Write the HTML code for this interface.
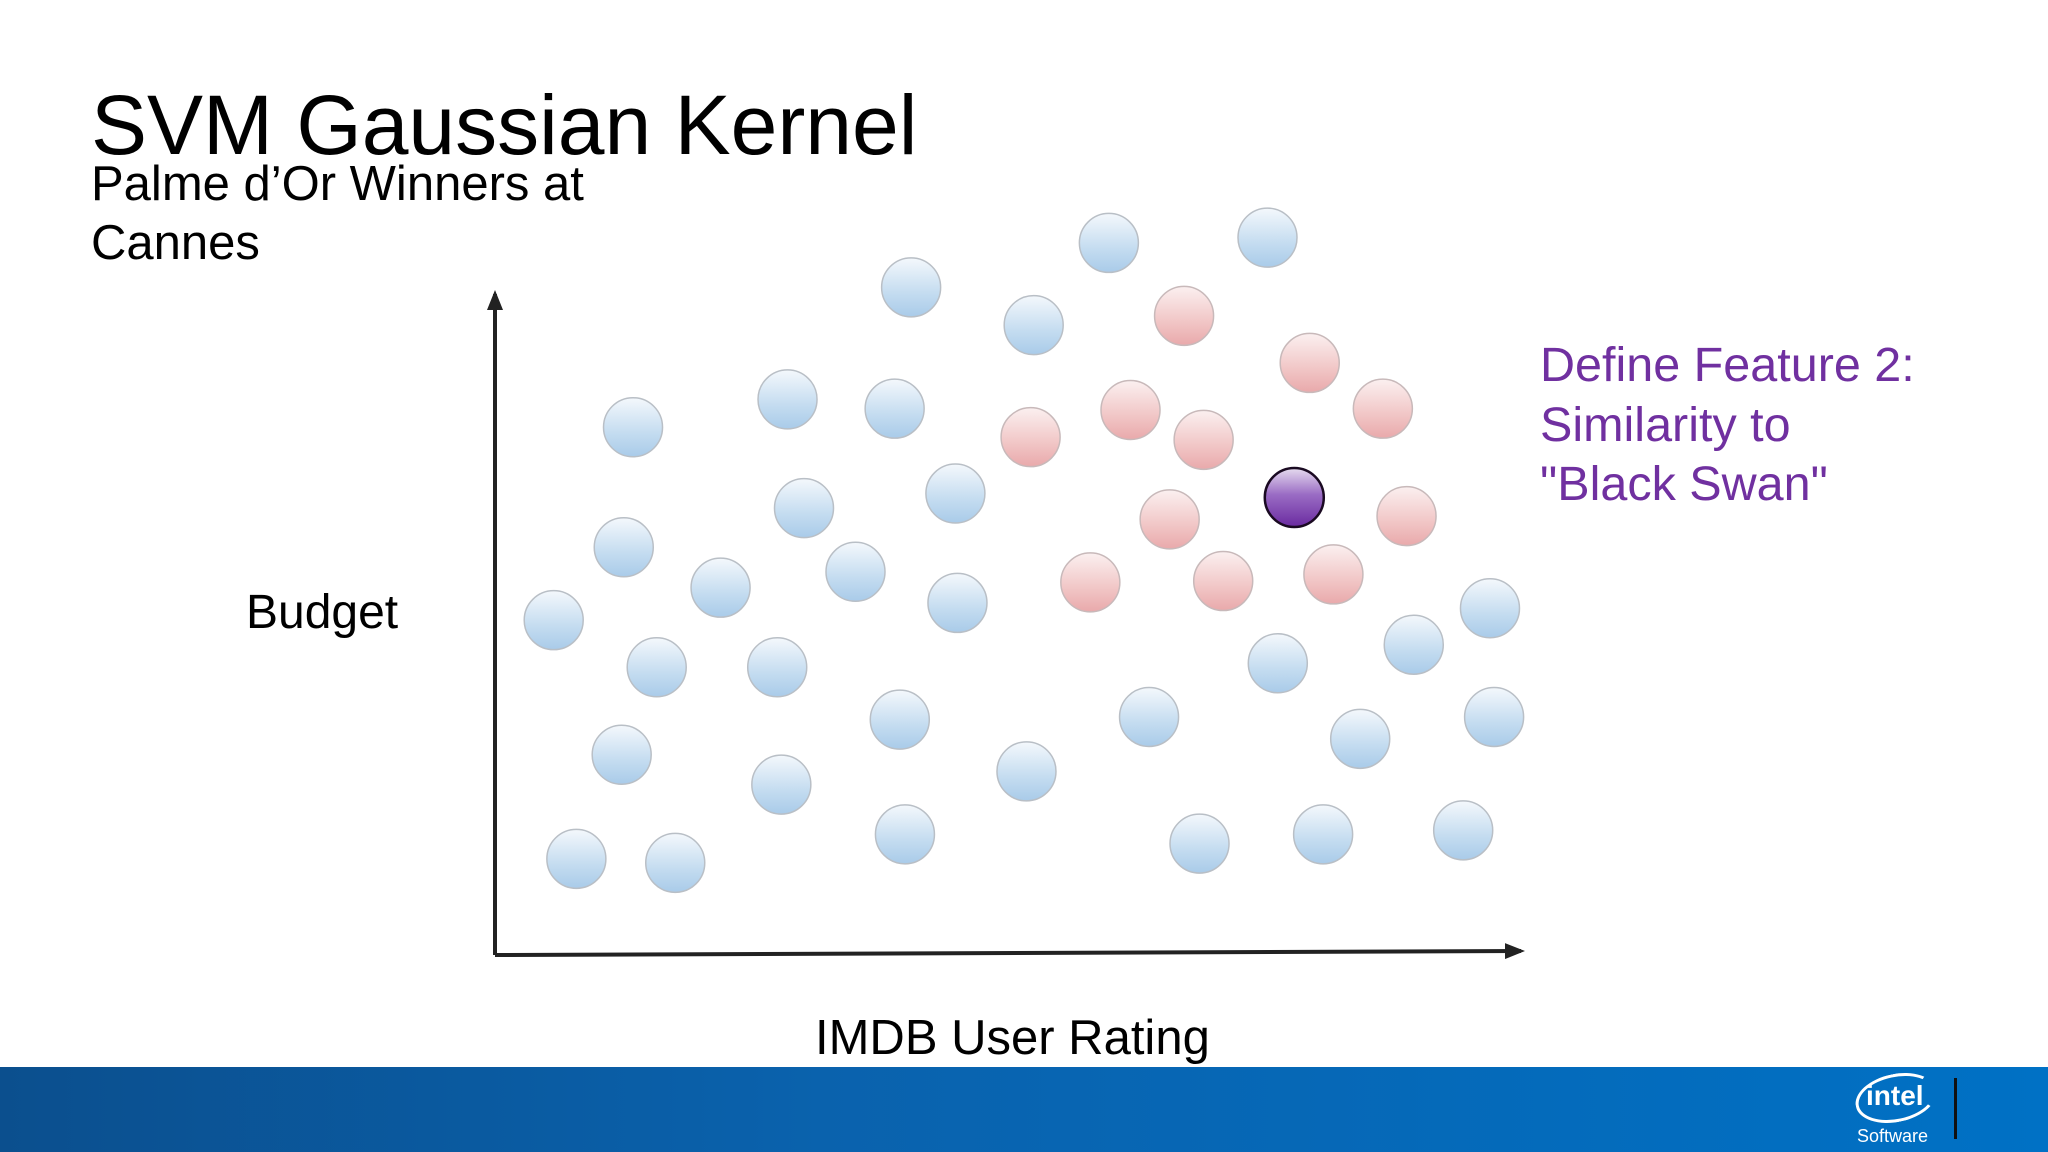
<!DOCTYPE html>
<html><head><meta charset="utf-8"><style>
html,body{margin:0;padding:0;background:#fff;}
#page{position:relative;width:2048px;height:1152px;overflow:hidden;font-family:"Liberation Sans",sans-serif;background:#fff;}
.t{position:absolute;white-space:nowrap;color:#000;}
</style></head><body>
<div id="page">
<div class="t" style="left:91px;top:77px;font-size:84px;">SVM Gaussian Kernel</div>
<div class="t" style="left:91px;top:155px;font-size:49px;line-height:59px;">Palme d’Or Winners at<br>Cannes</div>
<div class="t" style="left:246px;top:585px;font-size:48px;">Budget</div>
<div class="t" style="left:815px;top:1010px;font-size:49px;">IMDB User Rating</div>
<div class="t" style="left:1540px;top:336px;font-size:48.5px;line-height:59.5px;color:#7030a0;">Define Feature 2:<br>Similarity to<br>"Black Swan"</div>
<svg id="chart" width="2048" height="1152" style="position:absolute;left:0;top:0;">
<defs>
<linearGradient id="gb" x1="0" y1="0" x2="0" y2="1"><stop offset="0" stop-color="#f4f8fc"/><stop offset="0.6" stop-color="#c4dcf0"/><stop offset="1" stop-color="#a9cbe9"/></linearGradient>
<linearGradient id="gr" x1="0" y1="0" x2="0" y2="1"><stop offset="0" stop-color="#fbf0f0"/><stop offset="0.6" stop-color="#f1c6c6"/><stop offset="1" stop-color="#e9a9ab"/></linearGradient>
<linearGradient id="gp" x1="0" y1="0" x2="0" y2="1"><stop offset="0" stop-color="#e6dcef"/><stop offset="0.45" stop-color="#9a6cc4"/><stop offset="1" stop-color="#6a2aa0"/></linearGradient>
<marker id="ah" markerWidth="5" markerHeight="4" refX="4" refY="2" orient="auto" markerUnits="strokeWidth"><path d="M0,0 L5,2 L0,4 z" fill="#222"/></marker>
</defs>
<g id="axes"></g><g id="marks"></g>
</svg>
<div style="position:absolute;left:0;top:1067px;width:2048px;height:85px;background:linear-gradient(90deg,#0b4f8e 0%,#0a62ad 40%,#0071c5 100%);"></div>
<div style="position:absolute;left:1855px;top:1074px;width:76px;height:42px;border:3px solid #fff;border-radius:50%;transform:rotate(-12deg);border-right-color:transparent;"></div>
<div class="t" style="left:1866px;top:1080px;font-size:28px;color:#fff;font-weight:bold;">intel</div>
<div class="t" style="left:1857px;top:1126px;font-size:18px;color:#fff;">Software</div>
<div style="position:absolute;left:1954px;top:1078px;width:3px;height:61px;background:#111;"></div>
</div>
<script>
const blueX=[59.6,75.0,40.4,52.3,13.4,28.4,38.8,30.0,44.7,12.5,21.9,35.0,44.9,5.7,15.7,27.4,39.3,12.3,27.8,51.6,63.5,76.0,89.2,96.6,84.0,97.0,7.9,17.5,39.8,68.4,80.4,94.0];
const blueY=[107.1,107.9,100.4,94.7,79.3,83.5,82.1,67.1,69.3,61.2,55.1,57.5,52.8,50.2,43.1,43.1,35.2,29.9,25.4,27.4,35.6,43.7,46.5,52.0,32.3,35.6,14.2,13.6,17.9,16.5,17.9,18.5];
const redX=[66.9,79.1,86.2,61.7,68.8,52.0,65.5,88.5,57.8,70.7,81.4];
const redY=[96.1,89.0,82.1,81.9,77.4,77.8,65.4,65.9,55.9,56.1,57.1];
const targetX=[77.6];
const targetY=[68.7];
const NS='http://www.w3.org/2000/svg';
const x0=495,x1=1525,y0=953,y1=290;
function sx(v){return x0+(x1-x0)*v/100;}
function sy(v){return y0-(y0-y1)*v/100;}
const axes=document.getElementById('axes'),marks=document.getElementById('marks');
function line(a,b,c,d,name){const l=document.createElementNS(NS,'line');
l.setAttribute('x1',a);l.setAttribute('y1',b);l.setAttribute('x2',c);l.setAttribute('y2',d);
l.setAttribute('stroke','#222');l.setAttribute('stroke-width','4');l.setAttribute('marker-end','url(#ah)');


axes.appendChild(l);}
line(x0,y0+2,x0,y1+4,'y-axis');
line(x0,y0+2,x1-4,y0-2,'x-axis');
function dots(xs,ys,fill,stroke,sw,name){for(let i=0;i<xs.length;i++){const c=document.createElementNS(NS,'circle');
c.setAttribute('cx',sx(xs[i]));c.setAttribute('cy',sy(ys[i]));c.setAttribute('r',29.5);
c.setAttribute('fill',fill);c.setAttribute('stroke',stroke);c.setAttribute('stroke-width',sw);


marks.appendChild(c);}}
dots(blueX,blueY,'url(#gb)','#b9bfc6',1.5,'blue-point');
dots(redX,redY,'url(#gr)','#c8b9ba',1.5,'red-point');
dots(targetX,targetY,'url(#gp)','#1a0a22',2.5,'black-swan-point');
</script>
</body></html>
